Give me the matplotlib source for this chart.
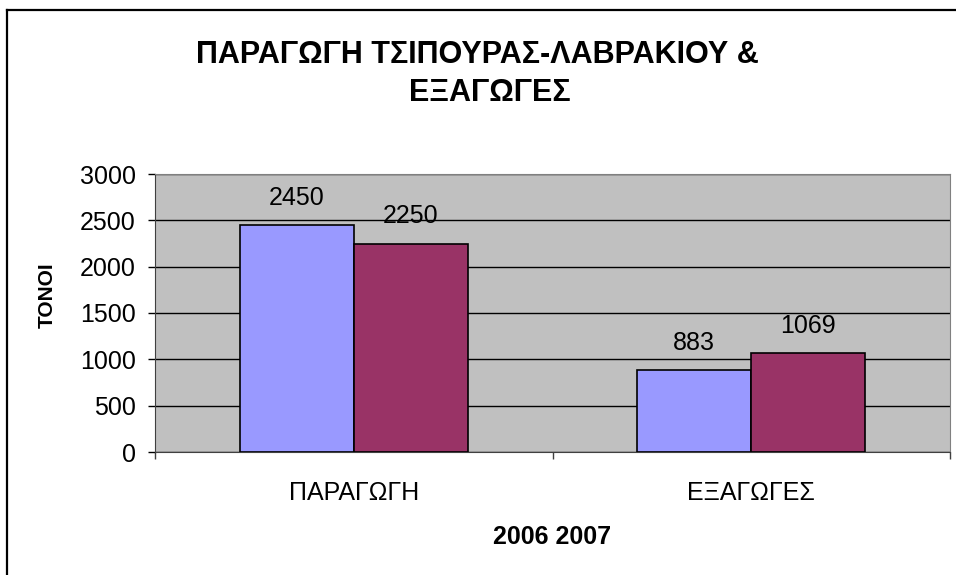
import numpy as np
import matplotlib.pyplot as plt
from matplotlib.lines import Line2D

plt.rcParams['font.family'] = ['Liberation Sans', 'DejaVu Sans']

# Data
categories = ["ΠΑΡΑΓΩΓΗ", "ΕΞΑΓΩΓΕΣ"]
values_2006 = [2450, 883]
values_2007 = [2250, 1069]
yticks = [0, 500, 1000, 1500, 2000, 2500, 3000]

W, H = 956, 575
fig = plt.figure(figsize=(W / 100, H / 100), dpi=100)

# plot area in pixel coords: left 155, right 950, top 174, bottom 452
ax = fig.add_axes([155 / W, (H - 452) / H, 795 / W, 278 / H])
ax.set_facecolor("#C0C0C0")

x = np.arange(len(categories))
bw = 0.287
b1 = ax.bar(x - bw / 2, values_2006, bw, color="#9999FF", edgecolor="black", linewidth=1.2, zorder=3)
b2 = ax.bar(x + bw / 2, values_2007, bw, color="#993366", edgecolor="black", linewidth=1.2, zorder=3)

for bars, vals in [(b1, values_2006), (b2, values_2007)]:
    for rect, v in zip(bars, vals):
        ax.annotate(str(v), (rect.get_x() + rect.get_width() / 2, rect.get_height()),
                    xytext=(0, 11), textcoords="offset points",
                    ha="center", va="bottom", fontsize=18)

ax.set_xlim(-0.5, 1.5)
ax.set_ylim(0, 3000)
ax.set_yticks(yticks)
ax.tick_params(axis="y", labelsize=18, length=5, width=1, direction="out", pad=9)
ax.yaxis.grid(True, color="black", linewidth=1, zorder=0)
ax.set_axisbelow(True)

ax.set_xticks(x)
ax.set_xticklabels(categories, fontsize=18)
ax.tick_params(axis="x", which="major", length=0, pad=21)
ax.set_xticks([-0.5, 0.5, 1.5], minor=True)
ax.tick_params(axis="x", which="minor", length=5, width=1, color="#404040")

for s in ["top", "right"]:
    ax.spines[s].set_color("#808080")
ax.spines["left"].set_color("#404040")
ax.spines["bottom"].set_color("#404040")

# titles and axis labels
fig.text(477 / W, 1 - 55 / H, "ΠΑΡΑΓΩΓΗ ΤΣΙΠΟΥΡΑΣ-ΛΑΒΡΑΚΙΟΥ &", fontsize=22, fontweight="bold",
         ha="center", va="center")
fig.text(490 / W, 1 - 93 / H, "ΕΞΑΓΩΓΕΣ", fontsize=22, fontweight="bold",
         ha="center", va="center")
fig.text(552 / W, 1 - 537 / H, "2006 2007", fontsize=18, fontweight="bold", ha="center", va="center")
fig.text(47 / W, 1 - 295 / H, "ΤΟΝΟΙ", fontsize=15, fontweight="bold", rotation=90,
         ha="center", va="center")

# chart border (only top and left visible)
fig.add_artist(Line2D([7 / W, 7 / W], [0, 1 - 10 / H], color="black", linewidth=1.6, transform=fig.transFigure))
fig.add_artist(Line2D([7 / W, 1], [1 - 10 / H, 1 - 10 / H], color="black", linewidth=1.6, transform=fig.transFigure))

fig.savefig("out.png", dpi=100)
